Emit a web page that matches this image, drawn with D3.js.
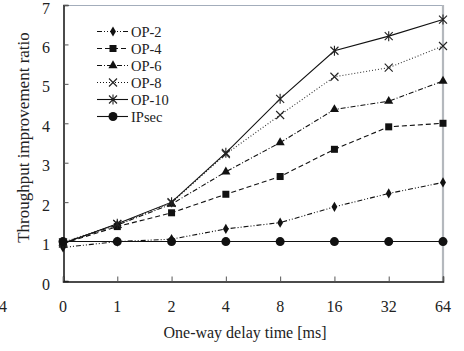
<!DOCTYPE html>
<html>
<head>
<meta charset="utf-8">
<script src="https://cdn.jsdelivr.net/npm/d3@7"></script>
<style>
  body { margin: 0; background: #fff; }
</style>
</head>
<body>
<script>
(()=>{
    const width = 464;
    const height = 351;

    const delays = ["0", "1", "2", "4", "8", "16", "32", "64"];
    const yTicks = [0, 1, 2, 3, 4, 5, 6, 7];
    const seriesNames = ["OP-2", "OP-4", "OP-6", "OP-8", "OP-10", "IPsec"];

    const op2   = [0.85, 1.00, 1.06, 1.32, 1.48, 1.88, 2.22, 2.50];
    const op4   = [0.95, 1.38, 1.73, 2.20, 2.65, 3.34, 3.91, 4.00];
    const op6   = [0.97, 1.42, 1.95, 2.77, 3.51, 4.35, 4.56, 5.07];
    const op8   = [0.98, 1.44, 1.98, 3.22, 4.21, 5.18, 5.41, 5.96];
    const op10  = [0.95, 1.45, 2.00, 3.25, 4.62, 5.84, 6.21, 6.63];
    const ipsec = [1.00, 1.00, 1.00, 1.00, 1.00, 1.00, 1.00, 1.00];

    const allValues = [op2, op4, op6, op8, op10, ipsec];

    // line style + marker per series
    const styles = {
        "OP-2":  {dash: "5,2,1,2,1,2", marker: "diamond"},
        "OP-4":  {dash: "5,3",         marker: "square"},
        "OP-6":  {dash: "5,2,1,2",     marker: "triangle"},
        "OP-8":  {dash: "1,2",         marker: "cross"},
        "OP-10": {dash: null,          marker: "star"},
        "IPsec": {dash: null,          marker: "circle"}
    };

    const left = 63, right = 443, top = 5, bottom = 281;

    const svg = d3.create("svg")
        .attr("width", width)
        .attr("height", height)
        .attr("viewBox", [0, 0, width, height])
        .style("font-family", "\"Liberation Serif\", serif");

    const x = d3.scalePoint().domain(delays).range([left, right]);
    const y = d3.scaleLinear().domain([0, 7]).range([bottom, top]);

    // frame: gray top / right
    svg.append("path")
        .attr("d", `M${left},${top + 0.5}H${right}`)
        .attr("fill", "none")
        .attr("stroke", "#a3adbb")
        .attr("stroke-width", 1.2);
    svg.append("path")
        .attr("d", `M${right},${top}V${bottom}`)
        .attr("fill", "none")
        .attr("stroke", "#b4b8bd")
        .attr("stroke-width", 2.2);

    // y axis
    const yAxis = svg.append("g")
        .attr("transform", `translate(${left + 0.5},0)`)
        .call(d3.axisRight(y).tickValues(yTicks).tickSize(5).tickFormat(""));
    yAxis.select(".domain").attr("stroke", "#111").attr("stroke-width", 1.5);
    yAxis.selectAll(".tick line").attr("stroke", "#555");

    svg.selectAll(".ylab")
        .data(yTicks)
        .join("text")
        .attr("x", 50)
        .attr("y", d => y(d) + 8.5)
        .attr("text-anchor", "end")
        .attr("font-size", 16)
        .attr("fill", "#222")
        .text(d => d);

    // x axis
    const xAxis = svg.append("g")
        .attr("transform", `translate(0,${bottom + 0.5})`)
        .call(d3.axisTop(x).tickSize(5).tickFormat(""));
    xAxis.select(".domain").attr("stroke", "#111").attr("stroke-width", 1.5);
    xAxis.selectAll(".tick line").attr("stroke", "#555");

    svg.selectAll(".xlab")
        .data(delays)
        .join("text")
        .attr("x", d => x(d))
        .attr("y", 311.5)
        .attr("text-anchor", "middle")
        .attr("font-size", 16)
        .attr("fill", "#222")
        .text(d => d);

    // neighbour panel remnant at the left edge
    svg.append("text")
        .attr("x", -1).attr("y", 311.5)
        .attr("font-size", 16)
        .attr("fill", "#222")
        .text("4");

    svg.append("text")
        .attr("x", 245).attr("y", 338)
        .attr("text-anchor", "middle")
        .attr("font-size", 16)
        .attr("fill", "#222")
        .text("One-way delay time [ms]");

    svg.append("text")
        .attr("transform", "translate(29,137.5) rotate(-90)")
        .attr("text-anchor", "middle")
        .attr("font-size", 17)
        .attr("fill", "#222")
        .text("Throughput improvement ratio");

    function drawMarker(g, type, cx, cy) {
        if (type === "diamond") {
            g.append("path").attr("d", d3.symbol(d3.symbolDiamond, 30)())
                .attr("transform", `translate(${cx},${cy})`).attr("fill", "#111");
        } else if (type === "square") {
            g.append("rect").attr("x", cx - 3.5).attr("y", cy - 3.5)
                .attr("width", 7).attr("height", 7).attr("fill", "#111");
        } else if (type === "triangle") {
            g.append("path").attr("d", d3.symbol(d3.symbolTriangle, 36)())
                .attr("transform", `translate(${cx},${cy})`).attr("fill", "#111");
        } else if (type === "cross") {
            g.append("path").attr("d", `M${cx-4},${cy-4}L${cx+4},${cy+4}M${cx-4},${cy+4}L${cx+4},${cy-4}`)
                .attr("stroke", "#222").attr("stroke-width", 1.1).attr("fill", "none");
        } else if (type === "star") {
            g.append("path").attr("d", `M${cx-4},${cy-4}L${cx+4},${cy+4}M${cx-4},${cy+4}L${cx+4},${cy-4}M${cx},${cy-5}L${cx},${cy+5}`)
                .attr("stroke", "#222").attr("stroke-width", 1.1).attr("fill", "none");
        } else if (type === "circle") {
            g.append("circle").attr("cx", cx).attr("cy", cy).attr("r", 4.5).attr("fill", "#111");
        }
    }

    const line = d3.line()
        .x((d, i) => x(delays[i]))
        .y(d => y(d));

    seriesNames.forEach((name, k) => {
        const vals = allValues[k];
        const st = styles[name];
        const g = svg.append("g");
        g.append("path")
            .attr("d", line(vals))
            .attr("fill", "none")
            .attr("stroke", name === "OP-8" ? "#333" : "#111")
            .attr("stroke-width", 1.1)
            .attr("stroke-dasharray", st.dash);
        vals.forEach((v, i) => drawMarker(g, st.marker, x(delays[i]), y(v)));
    });

    // legend
    const legend = svg.append("g");
    seriesNames.forEach((name, k) => {
        const ly = 31.5 + k * 17;
        const st = styles[name];
        legend.append("line")
            .attr("x1", 97).attr("x2", 128)
            .attr("y1", ly).attr("y2", ly)
            .attr("stroke", "#111")
            .attr("stroke-width", 1.1)
            .attr("stroke-dasharray", st.dash);
        drawMarker(legend, st.marker, 113, ly);
        legend.append("text")
            .attr("x", 131)
            .attr("y", ly + 5)
            .attr("font-size", 14.5)
            .attr("fill", "#222")
            .text(name);
    });

    d3.select("body").append(() => svg.node());
})()
</script>
</body>
</html>
